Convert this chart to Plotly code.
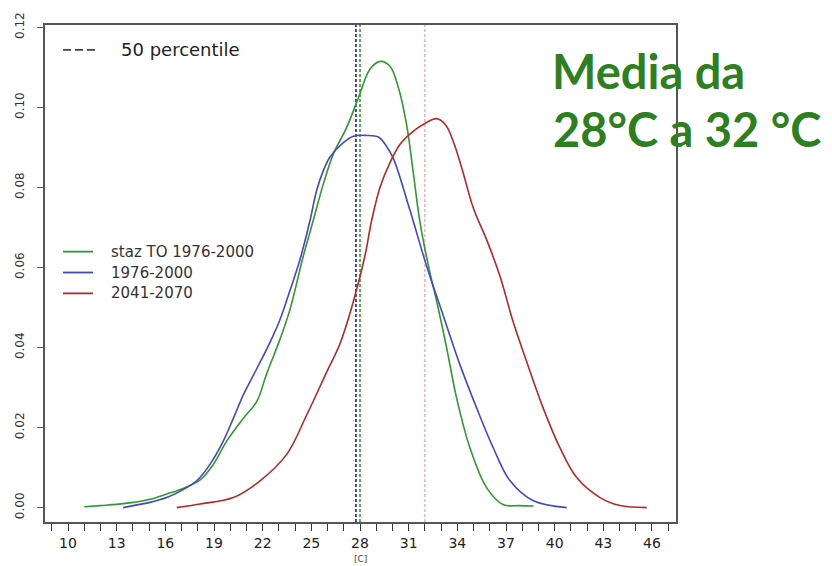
import plotly.graph_objects as go

# --- data ---
green_name = "staz TO 1976-2000"
green_x = [11.0, 11.97, 13.0, 14.03, 15.0, 16.08, 17.1, 18.14, 18.96, 19.78, 20.8, 21.63, 22.25,
           23.07, 23.69, 24.5, 25.12, 25.74, 26.36, 27.18, 28.0, 28.6, 29.24, 29.85, 30.4,
           30.88, 31.29, 31.7, 32.32, 32.73, 33.35, 33.96, 34.78, 35.8, 36.84, 37.8, 38.7]
green_y = [0.0002, 0.0005, 0.0008, 0.0013, 0.002, 0.0034, 0.0048, 0.0069, 0.0108, 0.0166, 0.0223,
           0.0265, 0.0335, 0.0421, 0.0496, 0.0628, 0.0718, 0.0809, 0.0884, 0.095, 0.1035, 0.1095,
           0.1115, 0.1103, 0.1045, 0.0955, 0.0835, 0.0712, 0.0585, 0.0515, 0.0397, 0.0273, 0.0149,
           0.005, 0.0007, 0.0005, 0.0004]

blue_name = "1976-2000"
blue_x = [13.4, 14.03, 15.06, 16.08, 17.1, 17.93, 18.75, 19.57, 20.19, 20.8, 21.43, 22.45,
          23.07, 23.58, 24.3, 24.92, 25.33, 25.74, 26.15, 26.97, 27.59, 28.4, 29.13, 29.6,
          30.06, 31.08, 32.11, 33.14, 34.17, 35.2, 36.22, 37.25, 38.69, 40.74]
blue_y = [0.0, 0.0005, 0.0013, 0.0025, 0.0045, 0.0067, 0.0108, 0.0166, 0.0223, 0.0281, 0.0331,
          0.0413, 0.047, 0.053, 0.062, 0.0718, 0.0793, 0.0842, 0.0876, 0.0912, 0.0928,
          0.093, 0.0926, 0.0905, 0.0872, 0.0743, 0.0603, 0.0479, 0.0356, 0.0248, 0.0149, 0.0067,
          0.0017, 0.0]

red_name = "2041-2070"
red_x = [16.7, 18.14, 20.19, 21.84, 23.48, 24.72, 25.95, 26.77, 27.59, 28.31, 28.72, 29.24,
         29.85, 30.47, 31.29, 32.0, 32.73, 33.3, 33.75, 34.3, 34.99, 35.81, 36.63, 37.45, 38.28,
         39.3, 40.33, 41.36, 42.8, 44.03, 45.68]
red_y = [0.0, 0.0009, 0.0025, 0.0067, 0.0133, 0.0232, 0.0339, 0.041, 0.0515, 0.063,
         0.0718, 0.0801, 0.0862, 0.0908, 0.0941, 0.096, 0.0972, 0.0955, 0.0915, 0.0845, 0.0748,
         0.0669, 0.0578, 0.0463, 0.0364, 0.0248, 0.0149, 0.0075, 0.0025, 0.0005, 0.0]

# 50th percentiles (vertical dashed lines): 1976-2000, staz TO, 2041-2070
median_values = [27.75, 28.0, 32.0]
median_label = "50 percentile"

# axis ticks
x_tick_vals = list(range(10, 47, 3))
x_tick_text = [str(v) for v in x_tick_vals]
y_tick_vals = [0.00, 0.02, 0.04, 0.06, 0.08, 0.10, 0.12]
y_tick_text = ["0.00", "0.02", "0.04", "0.06", "0.08", "0.10", "0.12"]

# --- styles ---
GREEN = "#2f9a2f"
BLUE = "#4646c8"
RED = "#b42828"
median_colors = ["#1c1ca6", "#22a522", "#e88a8a"]
TITLE_GREEN = "#2d7f1f"
FONT = "DejaVu Sans, sans-serif"

# plot-area pixel geometry (for placing legend items in paper coordinates)
L, R, T, B = 45, 676, 22, 522
W, H = R - L, B - T
def px(x):
    return (x - L) / W
def py(y):
    return (B - y) / H

fig = go.Figure()
series = [(green_name, green_x, green_y, GREEN),
          (blue_name, blue_x, blue_y, BLUE),
          (red_name, red_x, red_y, RED)]
for name, xs, ys, col in series:
    fig.add_trace(go.Scatter(x=xs, y=ys, mode="lines", name=name, showlegend=False,
                             line=dict(color=col, width=1.6, shape="spline", smoothing=1.0)))

shapes = []
for v, c, w in zip(median_values, median_colors, [1.6, 1.6, 1.0]):
    shapes.append(dict(type="line", xref="x", yref="paper", x0=v, x1=v, y0=0, y1=1,
                       line=dict(color=c, width=w, dash="3px,2px"), layer="below"))

annotations = []
# legend: 50 percentile
shapes.append(dict(type="line", xref="paper", yref="paper", x0=px(63), x1=px(97),
                   y0=py(47), y1=py(47), line=dict(color="#444444", width=1.6, dash="8px,4px")))
annotations.append(dict(text=median_label, xref="paper", yref="paper", x=px(119), y=py(47),
                        xanchor="left", yanchor="middle", showarrow=False,
                        font=dict(family=FONT, size=18, color="#222222")))
# legend: series
for i, (name, _, _, col) in enumerate(series):
    yy = 250 + 21 * i
    shapes.append(dict(type="line", xref="paper", yref="paper", x0=px(63), x1=px(93),
                       y0=py(yy), y1=py(yy), line=dict(color=col, width=1.8)))
    annotations.append(dict(text=name, xref="paper", yref="paper", x=px(109), y=py(yy),
                            xanchor="left", yanchor="middle", showarrow=False,
                            font=dict(family=FONT, size=15, color="#333333")))

annotations += [
    dict(text="Media da", xref="paper", yref="paper",
         x=px(550), y=py(68), xanchor="left", yanchor="middle", showarrow=False,
         font=dict(family="Lato, sans-serif", size=47, color=TITLE_GREEN, weight="bold")),
    dict(text="28°C a 32 °C", xref="paper", yref="paper",
         x=px(551), y=py(127), xanchor="left", yanchor="middle", showarrow=False,
         font=dict(family="Lato, sans-serif", size=47, color=TITLE_GREEN, weight="bold")),
    dict(text="[C]", xref="x", yref="paper", x=28, y=py(559),
         xanchor="center", yanchor="middle", showarrow=False,
         font=dict(family=FONT, size=9, color="#444444")),
]

fig.update_layout(
    width=832, height=566,
    margin=dict(l=L, r=832 - R, t=T, b=566 - B),
    paper_bgcolor="white", plot_bgcolor="white",
    font=dict(family=FONT, color="#222222"),
    showlegend=False,
    shapes=shapes,
    annotations=annotations,
)

fig.update_xaxes(range=[8.58, 47.48], tickmode="array", tickvals=x_tick_vals,
                 ticktext=x_tick_text, ticks="outside", ticklen=7, tickwidth=1.2,
                 tickcolor="#333333", showline=True, linecolor="#555555", linewidth=2,
                 mirror=True, showgrid=False, zeroline=False,
                 tickfont=dict(family=FONT, size=14, color="#222222"),
                 minor=dict(dtick=1, tick0=10, ticks="outside", ticklen=7, tickwidth=1.2,
                            tickcolor="#333333", showgrid=False))
fig.update_yaxes(range=[-0.0036, 0.1206], tickmode="array", tickvals=y_tick_vals,
                 ticktext=y_tick_text, ticks="outside", ticklen=6, tickwidth=1.2,
                 tickcolor="#555555", showline=True, linecolor="#555555", linewidth=2,
                 mirror=True, showgrid=False, zeroline=False, tickangle=-90,
                 ticklabelstandoff=8,
                 tickfont=dict(family=FONT, size=12, color="#333333"))

fig.write_html("out.html")
